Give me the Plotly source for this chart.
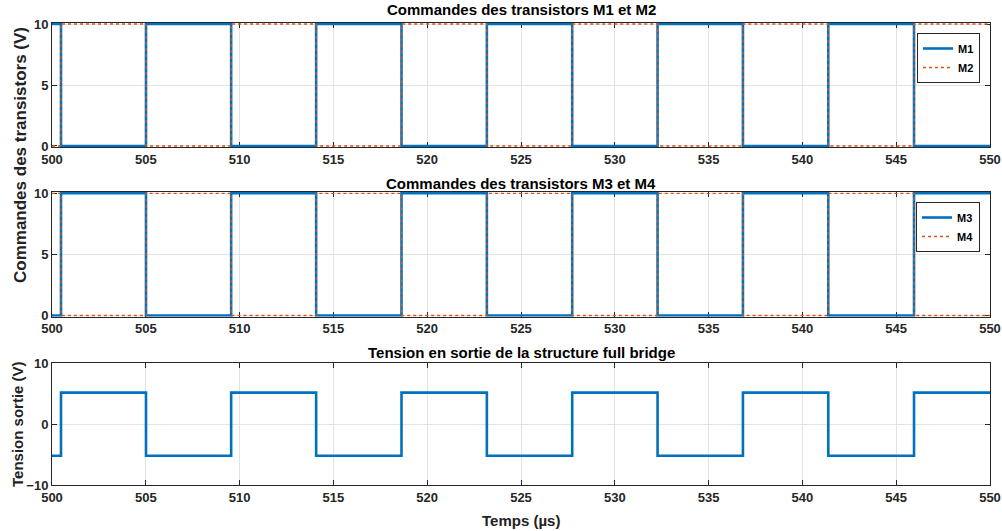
import plotly.graph_objects as go

# ---- data ----
t_edges = [500.0, 500.48, 505.01, 509.55, 514.08, 518.63, 523.18, 527.73,
           532.28, 536.83, 541.38, 545.95, 550.0]
m1 = [10, 0, 10, 0, 10, 0, 10, 0, 10, 0, 10, 0, 0]
m2 = [0, 10, 0, 10, 0, 10, 0, 10, 0, 10, 0, 10, 10]
m3 = [0, 10, 0, 10, 0, 10, 0, 10, 0, 10, 0, 10, 10]
m4 = [10, 0, 10, 0, 10, 0, 10, 0, 10, 0, 10, 0, 0]
v_out = [-5.2, 5.15, -5.2, 5.15, -5.2, 5.15, -5.2, 5.15, -5.2, 5.15, -5.2, 5.15, 5.15]

x_ticks = [500, 505, 510, 515, 520, 525, 530, 535, 540, 545, 550]
y_ticks_cmd = [0, 5, 10]
y_ticks_out = [-10, 0, 10]

titles = ["Commandes des transistors M1 et M2",
          "Commandes des transistors M3 et M4",
          "Tension en sortie de la structure full bridge"]

BLUE = "#0072BD"
ORANGE = "#D95319"
AX = "#262626"
GRID = "#e3e3e3"
FONT = "Liberation Sans, Arial, sans-serif"

W, H = 1002, 531
def py(p):
    return 1 - p / H

fig = go.Figure()

fig.add_trace(go.Scatter(x=t_edges, y=m1, mode="lines", line_shape="hv", name="M1",
                         line=dict(color=BLUE, width=2.6), xaxis="x", yaxis="y", legend="legend"))
fig.add_trace(go.Scatter(x=t_edges, y=m2, mode="lines", line_shape="hv", name="M2",
                         line=dict(color=ORANGE, width=1.3, dash="dot"), xaxis="x", yaxis="y", legend="legend"))
fig.add_trace(go.Scatter(x=t_edges, y=m3, mode="lines", line_shape="hv", name="M3",
                         line=dict(color=BLUE, width=2.6), xaxis="x2", yaxis="y2", legend="legend2"))
fig.add_trace(go.Scatter(x=t_edges, y=m4, mode="lines", line_shape="hv", name="M4",
                         line=dict(color=ORANGE, width=1.3, dash="dot"), xaxis="x2", yaxis="y2", legend="legend2"))
fig.add_trace(go.Scatter(x=t_edges, y=v_out, mode="lines", line_shape="hv", name="Vs",
                         line=dict(color=BLUE, width=2.6), xaxis="x3", yaxis="y3", showlegend=False))

xdom = [52 / W, 990 / W]
common_x = dict(range=[500, 550], tickvals=x_ticks, ticks="inside", ticklen=5, tickcolor=AX,
                showline=True, linecolor=AX, linewidth=1, mirror="ticks", showgrid=True,
                gridcolor=GRID, zeroline=False, domain=xdom, layer="below traces",
                automargin=False,
                tickfont=dict(family=FONT, size=13, color=AX, weight="bold"))
common_y = dict(ticks="inside", ticklen=5, tickcolor=AX, showline=True, linecolor=AX, linewidth=1,
                mirror="ticks", showgrid=True, gridcolor=GRID, zeroline=False, layer="below traces",
                automargin=False,
                tickfont=dict(family=FONT, size=13, color=AX, weight="bold"))

fig.update_layout(
    width=W, height=H,
    margin=dict(l=0, r=0, t=0, b=0, pad=0, autoexpand=False),
    paper_bgcolor="white", plot_bgcolor="white",
    font=dict(family=FONT, color="black", weight="bold"),
    xaxis=dict(**common_x, anchor="y"),
    xaxis2=dict(**common_x, anchor="y2"),
    xaxis3=dict(**common_x, anchor="y3"),
    yaxis=dict(**common_y, anchor="x", range=[-0.1, 10.1], tickvals=y_ticks_cmd,
               domain=[py(147.2), py(22.8)]),
    yaxis2=dict(**common_y, anchor="x2", range=[-0.1, 10.1], tickvals=y_ticks_cmd,
                domain=[py(316.7), py(192.1)]),
    yaxis3=dict(**common_y, anchor="x3", range=[-10, 10], tickvals=y_ticks_out,
                domain=[py(485), py(363)]),
    legend=dict(x=980 / W, y=py(33), xanchor="right", yanchor="top", bgcolor="white",
                bordercolor=AX, borderwidth=1, itemwidth=30, tracegroupgap=0,
                font=dict(family=FONT, size=11, color="black", weight="bold")),
    legend2=dict(x=980 / W, y=py(202), xanchor="right", yanchor="top", bgcolor="white",
                 bordercolor=AX, borderwidth=1, itemwidth=30, tracegroupgap=0,
                 font=dict(family=FONT, size=11, color="black", weight="bold")),
)

ann = []
title_y = [10, 183, 352]
for txt, yp in zip(titles, title_y):
    ann.append(dict(text=txt, xref="paper", yref="paper", x=521 / W, y=py(yp),
                    xanchor="center", yanchor="middle", showarrow=False,
                    font=dict(family=FONT, size=15, color="black", weight="bold")))
ann.append(dict(text="Commandes des transistors (V)", xref="paper", yref="paper",
                x=21 / W, y=py(155), xanchor="center", yanchor="middle", textangle=-90,
                showarrow=False, font=dict(family=FONT, size=17, color="#222", weight="bold")))
ann.append(dict(text="Tension sortie (V)", xref="paper", yref="paper",
                x=17 / W, y=py(424), xanchor="center", yanchor="middle", textangle=-90,
                showarrow=False, font=dict(family=FONT, size=15, color="#222", weight="bold")))
ann.append(dict(text="Temps (µs)", xref="paper", yref="paper",
                x=521 / W, y=py(520), xanchor="center", yanchor="middle",
                showarrow=False, font=dict(family=FONT, size=15, color="#222", weight="bold")))
fig.update_layout(annotations=ann)

fig.write_html("out.html", config={"displayModeBar": False},
               post_script="document.body.style.margin='0';document.body.style.overflow='hidden';")
